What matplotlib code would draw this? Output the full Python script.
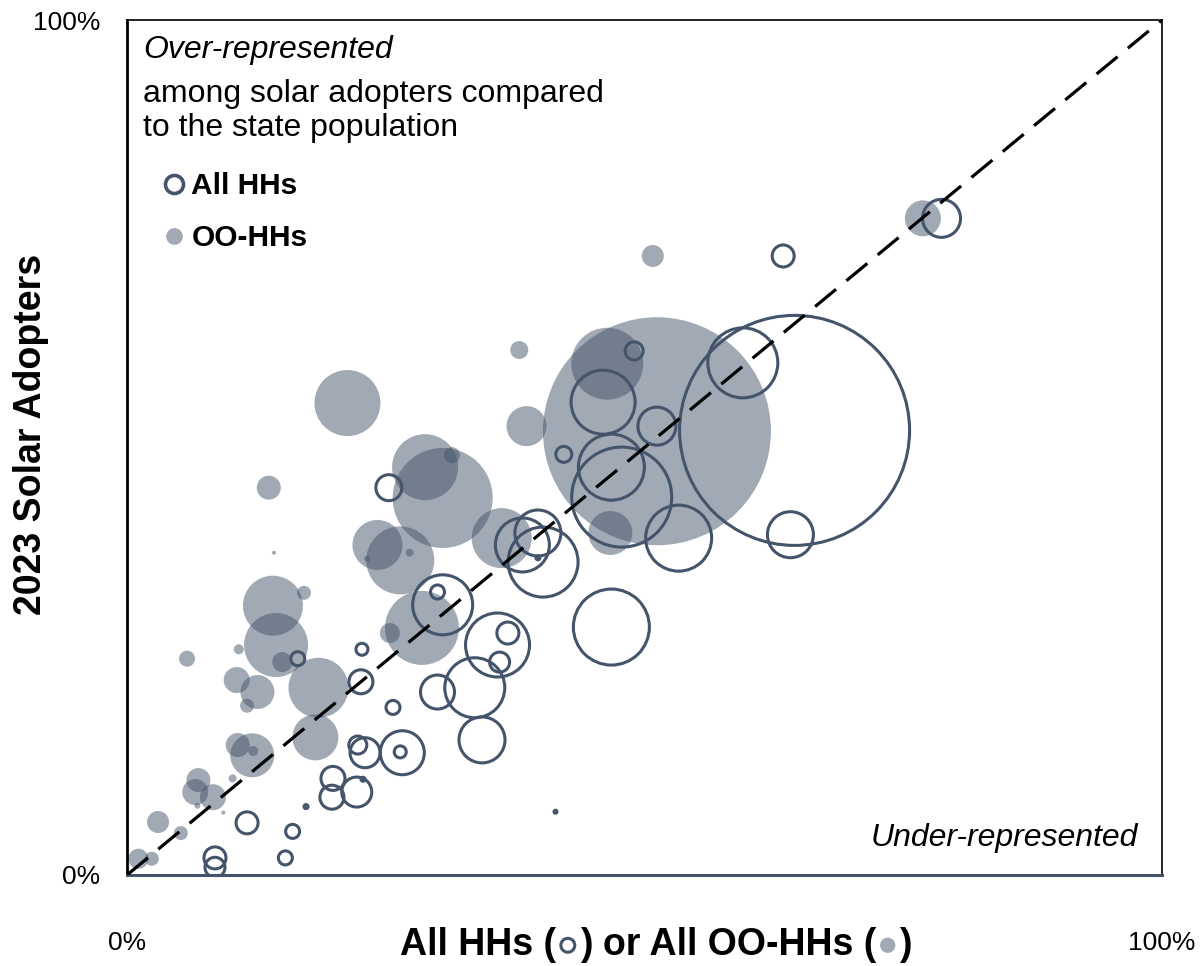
import matplotlib
matplotlib.use("Agg")
import matplotlib.pyplot as plt
from matplotlib.lines import Line2D
from matplotlib.patches import Circle
from matplotlib.offsetbox import TextArea, DrawingArea, HPacker, AnchoredOffsetbox

plt.rcParams['font.family'] = ['Liberation Sans', 'DejaVu Sans']

# share of owner-occupied households (x) vs share of 2023 adopters (y), in %
oo_x = [51.2, 46.4, 46.7, 38.6, 37.9, 50.8, 76.9, 21.3, 30.5, 28.8, 31.4, 24.2, 26.4, 27.3, 23.2,
        36.2, 28.5, 25.4, 14.1, 14.4, 17.1, 10.8, 5.8, 15.0, 10.6, 12.6, 11.6, 18.5, 18.2, 14.2,
        13.7, 10.7, 12.1, 12.2, 6.9, 6.6, 8.3, 9.3, 6.8, 3.0, 5.2, 1.1, 2.4, 10.2]
oo_y = [51.9, 59.8, 40.0, 52.5, 61.4, 72.4, 76.8, 55.2, 44.1, 47.7, 49.1, 38.6, 36.8, 37.7, 37.0,
        39.4, 28.9, 28.3, 31.5, 26.9, 33.0, 26.4, 25.3, 24.9, 22.8, 21.4, 19.8, 21.9, 16.1, 37.7,
        45.3, 15.2, 14.0, 14.5, 11.1, 9.7, 9.1, 7.3, 8.1, 6.2, 4.9, 1.9, 1.9, 11.3]
oo_size = [114, 36, 22, 20, 9, 11, 18, 33, 50, 33, 8, 25, 34, 4, 3,
           30, 37, 10, 30, 32, 7, 5, 8, 10, 13, 17, 7, 30, 23, 2,
           12, 12, 22, 5, 12, 13, 13, 2, 3, 11, 7, 10, 7, 4]

# share of all households (x) vs share of 2023 adopters (y), in %
all_x = [64.5, 59.5, 64.1, 63.4, 46.0, 51.2, 49.0, 42.2, 46.8, 47.8, 53.3, 78.7, 46.8, 25.3,
         38.2, 39.7, 40.2, 39.7, 30.5, 30.0, 35.8, 36.8, 36.0, 33.6, 30.0, 34.3,
         22.7, 22.6, 25.7, 26.6, 26.4, 23.0, 22.3, 19.9, 19.8, 22.2, 22.8,
         11.6, 16.0, 15.3, 8.5, 8.5, 17.3, 16.5, 41.4]
all_y = [52.0, 59.9, 39.8, 72.4, 55.3, 52.5, 61.3, 49.2, 47.7, 44.2, 39.4, 76.8, 29.0, 45.3,
         38.6, 40.0, 36.6, 37.1, 31.6, 33.1, 26.9, 28.3, 24.9, 21.9, 21.4, 15.8,
         26.4, 22.6, 19.6, 14.3, 14.4, 14.3, 15.2, 11.3, 9.1, 9.7, 11.2,
         6.1, 5.1, 2.0, 2.0, 0.9, 8.0, 25.3, 7.4]
all_size = [115, 35, 23, 11, 32, 19, 9, 8, 33, 50, 33, 19, 38, 13,
            27, 23, 35, 2, 30, 7, 32, 11, 10, 30, 17, 23,
            6, 12, 7, 22, 6, 15, 9, 12, 12, 15, 2,
            11, 7, 7, 11, 10, 2, 7, 1.5]

NAVY = "#44546A"
GREY = "#A1A9B4"
PT_PER_PX = 0.72


def marker_area(sizes):
    return [(2 * v * PT_PER_PX) ** 2 for v in sizes]


fig = plt.figure(figsize=(12.01, 9.66), dpi=100)
ax = fig.add_axes([127 / 1201, 1 - 875 / 966, 1035 / 1201, 855 / 966])

ax.scatter(oo_x, oo_y, s=marker_area(oo_size), color=NAVY, alpha=0.5, linewidths=0, zorder=2)
ax.scatter(all_x, all_y, s=marker_area(all_size), facecolors="none", edgecolors=NAVY,
           linewidths=2.2, zorder=3)
ax.plot([0, 100], [0, 100], color="black", lw=2.3, ls=(0, (8.5, 4.2)), zorder=4)

ax.set_xlim(0, 100)
ax.set_ylim(0, 100)
ax.set_xticks([0, 100])
ax.set_xticklabels(["0%", "100%"])
ax.set_yticks([0, 100])
ax.set_yticklabels(["0%", "100%"])
ax.tick_params(axis="x", length=0, labelsize=19, pad=40)
ax.tick_params(axis="y", length=0, labelsize=19, pad=19)

for side in ("top", "right"):
    ax.spines[side].set_linewidth(1.2)
    ax.spines[side].set_color("black")
ax.spines["left"].set_linewidth(2.0)
ax.spines["left"].set_color("black")
ax.spines["bottom"].set_linewidth(2.2)
ax.spines["bottom"].set_color(NAVY)

# corner annotations
ax.text(0.0155, 0.965, "Over-represented", transform=ax.transAxes, fontsize=23,
        style="italic", ha="left", va="center")
ax.text(0.0155, 0.8936, "among solar adopters compared\nto the state population",
        transform=ax.transAxes, fontsize=23, ha="left", va="center", linespacing=1.2)
ax.text(0.977, 0.043, "Under-represented", transform=ax.transAxes, fontsize=23,
        style="italic", ha="right", va="center")

handles = [Line2D([], [], ls="", marker="o", ms=13, mfc="none", mec=NAVY, mew=2.6),
           Line2D([], [], ls="", marker="o", ms=12, mfc=GREY, mec="none")]
ax.legend(handles, ["All HHs", "OO-HHs"], loc="upper left", bbox_to_anchor=(0.019, 0.836),
          frameon=False, prop={"size": 21.5, "weight": "bold"}, handletextpad=0.1,
          handlelength=1.0, labelspacing=0.8, borderaxespad=0)

# y label
fig.text(31 / 1201, 1 - 434 / 966, "2023 Solar Adopters", rotation=90, fontsize=27,
         fontweight="bold", ha="center", va="center")

# x label with small marker glyphs
lab = {"size": 27, "weight": "bold"}
da_open = DrawingArea(15, 16, 0, 0)
da_open.add_artist(Circle((7.5, 7), 5, facecolor="none", edgecolor=NAVY, lw=2.2))
da_fill = DrawingArea(15, 16, 0, 0)
da_fill.add_artist(Circle((7.5, 7), 5.5, facecolor=GREY, edgecolor="none"))
parts = [TextArea("All HHs (", textprops=lab), da_open,
         TextArea(") or All OO-HHs (", textprops=lab), da_fill,
         TextArea(")", textprops=lab)]
box = HPacker(children=parts, align="baseline", pad=0, sep=1)
anch = AnchoredOffsetbox(loc="center", child=box, pad=0, borderpad=0, frameon=False,
                         bbox_to_anchor=(656 / 1201, 1 - 945 / 966),
                         bbox_transform=fig.transFigure)
fig.add_artist(anch)

fig.savefig("out.png", dpi=100)
